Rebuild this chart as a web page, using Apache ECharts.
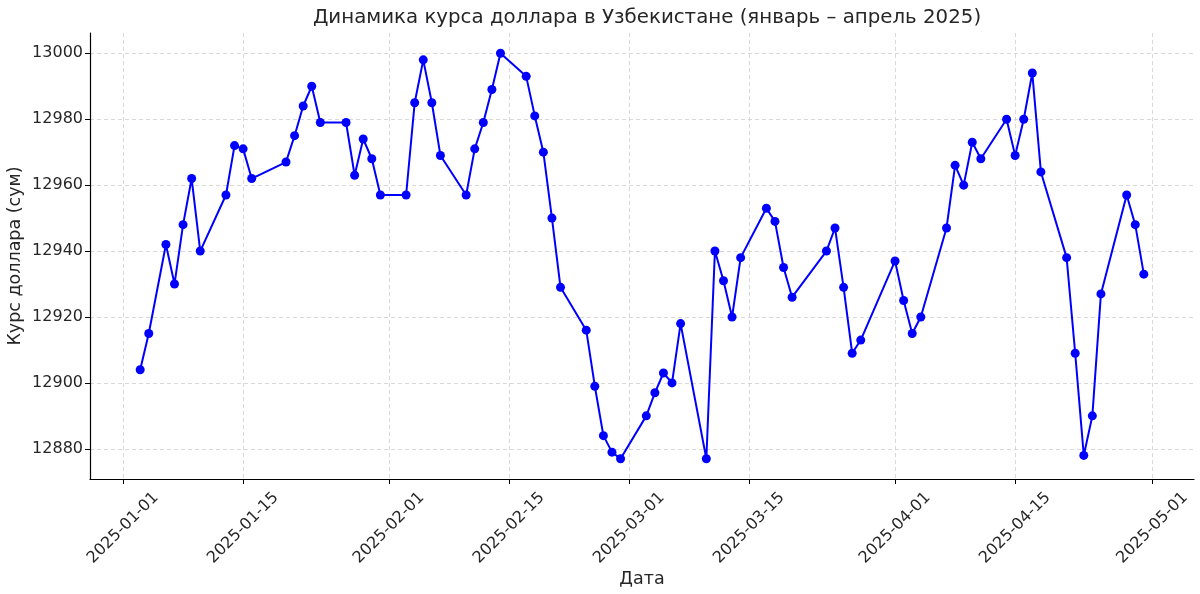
<!DOCTYPE html>
<html>
<head>
<meta charset="utf-8">
<script src="https://cdn.jsdelivr.net/npm/echarts@6/dist/echarts.min.js"></script>
<style>
html,body{margin:0;padding:0;background:#fff;}
#chart{width:1200px;height:594px;}
</style>
</head>
<body>
<div id="chart"></div>
<script>
const dates = [
  '2025-01-03','2025-01-04','2025-01-06','2025-01-07','2025-01-08','2025-01-09','2025-01-10',
  '2025-01-13','2025-01-14','2025-01-15','2025-01-16',
  '2025-01-20','2025-01-21','2025-01-22','2025-01-23','2025-01-24',
  '2025-01-27','2025-01-28','2025-01-29','2025-01-30','2025-01-31',
  '2025-02-03','2025-02-04','2025-02-05','2025-02-06','2025-02-07',
  '2025-02-10','2025-02-11','2025-02-12','2025-02-13','2025-02-14',
  '2025-02-17','2025-02-18','2025-02-19','2025-02-20','2025-02-21',
  '2025-02-24','2025-02-25','2025-02-26','2025-02-27','2025-02-28',
  '2025-03-03','2025-03-04','2025-03-05','2025-03-06','2025-03-07',
  '2025-03-10','2025-03-11','2025-03-12','2025-03-13','2025-03-14',
  '2025-03-17','2025-03-18','2025-03-19','2025-03-20',
  '2025-03-24','2025-03-25','2025-03-26','2025-03-27','2025-03-28',
  '2025-04-01','2025-04-02','2025-04-03','2025-04-04',
  '2025-04-07','2025-04-08','2025-04-09','2025-04-10','2025-04-11',
  '2025-04-14','2025-04-15','2025-04-16','2025-04-17','2025-04-18',
  '2025-04-21','2025-04-22','2025-04-23','2025-04-24','2025-04-25',
  '2025-04-28','2025-04-29','2025-04-30'
];
const rates = [
  12904,12915,12942,12930,12948,12962,12940,
  12957,12972,12971,12962,
  12967,12975,12984,12990,12979,
  12979,12963,12974,12968,12957,
  12957,12985,12998,12985,12969,
  12957,12971,12979,12989,13000,
  12993,12981,12970,12950,12929,
  12916,12899,12884,12879,12877,
  12890,12897,12903,12900,12918,
  12877,12940,12931,12920,12938,
  12953,12949,12935,12926,
  12940,12947,12929,12909,12913,
  12937,12925,12915,12920,
  12947,12966,12960,12973,12968,
  12980,12969,12980,12994,12964,
  12938,12909,12878,12890,12927,
  12957,12948,12933
];
const xTickLabels = ['2025-01-01','2025-01-15','2025-02-01','2025-02-15','2025-03-01','2025-03-15','2025-04-01','2025-04-15','2025-05-01'];
const yTickValues = [12880,12900,12920,12940,12960,12980,13000];

const titleText = 'Динамика курса доллара в Узбекистане (январь – апрель 2025)';
const xName = 'Дата';
const yName = 'Курс доллара (сум)';

function ts(s){ const p = s.split('-').map(Number); return Date.UTC(p[0], p[1]-1, p[2]); }
function fmt(v){ const d = new Date(v); const m = d.getUTCMonth()+1, dd = d.getUTCDate();
  return d.getUTCFullYear() + '-' + (m<10?'0':'') + m + '-' + (dd<10?'0':'') + dd; }
const firstTs = ts(dates[0]), lastTs = ts(dates[dates.length-1]);
const xPad = (lastTs - firstTs) * 0.05;
const yMinData = Math.min(...rates), yMaxData = Math.max(...rates);
const yPad = (yMaxData - yMinData) * 0.05;
const xTickTs = xTickLabels.map(ts);

const textColor = '#262626';
const font = 'DejaVu Sans';
const chart = echarts.init(document.getElementById('chart'), null, {renderer:'canvas'});
chart.setOption({
  animation: false,
  backgroundColor: '#fff',
  title: {
    text: titleText, left: 642, textAlign: 'center', top: 3,
    textStyle: {fontFamily: font, fontSize: 19.8, fontWeight: 'normal', color: textColor}
  },
  grid: {left: 90, right: 6, top: 33, bottom: 115, containLabel: false, outerBoundsMode: 'none'},
  xAxis: {
    type: 'value',
    min: firstTs - xPad, max: lastTs + xPad,
    name: xName, nameLocation: 'middle', nameGap: 91, nameMoveOverlap: false,
    nameTextStyle: {fontFamily: font, fontSize: 17.5, color: textColor},
    axisLine: {show: true, lineStyle: {color: '#000', width: 1.2}},
    axisTick: {show: true, length: 5, lineStyle: {color: '#000'}, customValues: xTickTs},
    axisLabel: {
      customValues: xTickTs, rotate: 45, fontFamily: font, fontSize: 16, color: textColor,
      margin: 49, align: 'center', verticalAlign: 'middle',
      formatter: fmt
    },
    splitLine: {show: true, lineStyle: {color: '#cfcfcf', type: [4,3], width: 0.8}}
  },
  yAxis: {
    type: 'value',
    min: yMinData - yPad, max: yMaxData + yPad,
    name: yName, nameLocation: 'middle', nameGap: 66, nameMoveOverlap: false,
    nameTextStyle: {fontFamily: font, fontSize: 17.5, color: textColor},
    axisLine: {show: true, lineStyle: {color: '#000', width: 1.2}},
    axisTick: {show: true, length: 5, lineStyle: {color: '#000'}, customValues: yTickValues},
    axisLabel: {customValues: yTickValues, fontFamily: font, fontSize: 16, color: textColor, margin: 7,
      formatter: function(v){ return String(v); }},
    splitLine: {show: true, lineStyle: {color: '#cfcfcf', type: [4,3], width: 0.8}}
  },
  series: [{
    type: 'line',
    data: dates.map((d,i) => [ts(d), rates[i]]),
    symbol: 'circle', symbolSize: 9,
    showAllSymbol: true,
    lineStyle: {color: '#0000ff', width: 2},
    itemStyle: {color: '#0000ff'},
    z: 5
  }]
});
</script>
</body>
</html>
